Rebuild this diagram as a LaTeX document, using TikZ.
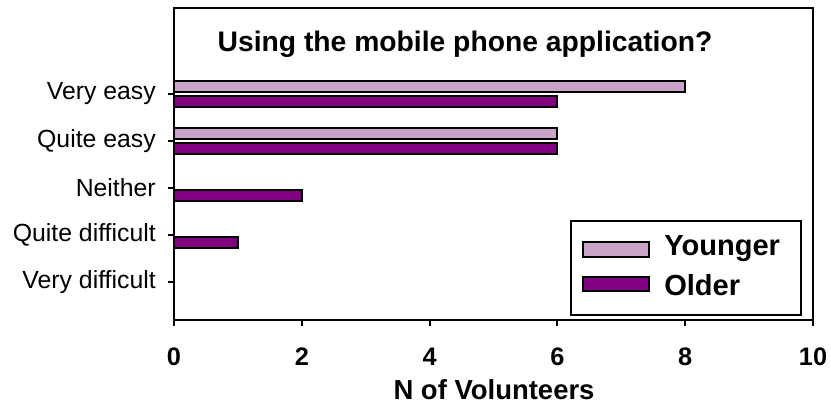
\documentclass[tikz,border=0pt]{standalone}
\usepackage{fontspec}
\setmainfont{Liberation Sans}
\usetikzlibrary{positioning}
\definecolor{younger}{RGB}{201,164,201}
\definecolor{older}{RGB}{128,0,128}

\begin{document}
\begin{tikzpicture}[
  x=0.75pt,y=-0.75pt,
  frame/.style={line width=1.5pt},
  bar/.style={draw,line width=1.5pt},
  catlabel/.style={anchor=east,inner sep=0pt,font=\fontsize{18.6}{21}\selectfont},
  numlabel/.style={inner sep=0pt,font=\fontsize{19}{22}\selectfont\bfseries},
  legtext/.style={anchor=west,inner sep=0pt,font=\fontsize{21.8}{24}\selectfont\bfseries},
]
\useasboundingbox (0,0) rectangle (831,405);

% plot area
\draw[frame] (174,8) rectangle (813,320);
\node[anchor=base,inner sep=0pt,font=\fontsize{21.2}{24}\selectfont\bfseries] (title) at (465,51) {Using the mobile phone application?};

% categories
\foreach \i/\lab in {0/Very easy,1/Quite easy,2/Neither,3/Quite difficult,4/Very difficult}{
  \draw[frame] (168,93.5+47.1*\i) -- (174,93.5+47.1*\i);
  \node[catlabel] (cat\i) at (156,93.5+47.1*\i) {\lab};
}

% bars
\foreach \i/\v in {0/8,1/6}
  \draw[bar,fill=younger] (174,80.5+47.1*\i) rectangle (174+63.9*\v,91.5+47.1*\i);
\foreach \i/\v in {0/6,1/6,2/2,3/1}
  \draw[bar,fill=older] (174,95.5+47.1*\i) rectangle (174+63.9*\v,106.5+47.1*\i);

% value axis
\foreach \v in {0,2,...,10}{
  \draw[frame] (174+63.9*\v,320) -- (174+63.9*\v,326);
  \node[numlabel] (num\v) at (174+63.9*\v,356.5) {\v};
}
\node[anchor=base,inner sep=0pt,font=\fontsize{20.6}{24}\selectfont\bfseries] (xtitle) at (494,399.5) {N of Volunteers};

% legend
\draw[frame,fill=white] (571,221) rectangle (801,315);
\draw[bar,fill=younger] (583,242) rectangle (649,257);
\draw[bar,fill=older] (583,277) rectangle (649,291);
\node[legtext] (legY) at (664,249) {Younger};
\node[legtext] (legO) at (664,285) {Older};
\end{tikzpicture}
\end{document}
